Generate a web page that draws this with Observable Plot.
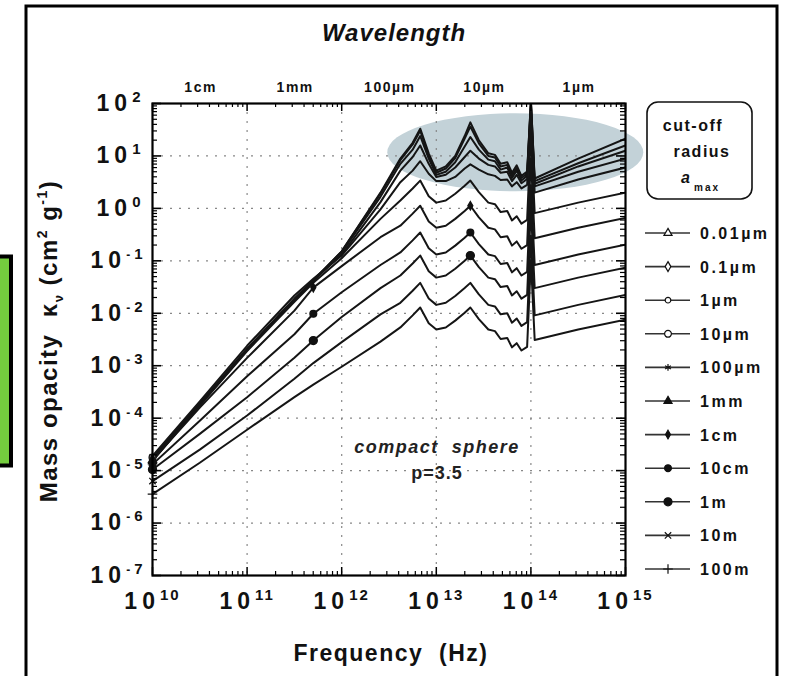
<!DOCTYPE html>
<html><head><meta charset="utf-8">
<script src="https://cdn.jsdelivr.net/npm/d3@7"></script>
<script src="https://cdn.jsdelivr.net/npm/@observablehq/plot@0.6"></script>
<style>
body{margin:0;background:#fff;}
#chart{position:relative;width:785px;height:676px;overflow:hidden;background:#fff;}
#chart svg{position:absolute;left:0;top:0;}
</style></head><body><div id="chart"></div>
<script>
// log10 of frequency (Hz)
const logFreq = [10, 10.5, 11, 11.5, 11.7, 12, 12.41, 12.62, 12.75, 12.83, 12.92, 13.0, 13.1, 13.2, 13.3, 13.36, 13.45, 13.55, 13.62, 13.68, 13.75, 13.8, 13.85, 13.9, 13.96, 14.0, 14.04, 14.5, 15];
// log10 of mass opacity (cm^2 g^-1), one list per cut-off radius
const kappa_001um = [-4.82, -3.75, -2.7, -1.75, -1.38, -0.82, 0.3, 0.95, 1.25, 1.52, 1.05, 0.72, 0.8, 1.0, 1.38, 1.64, 1.3, 1.05, 1.02, 0.85, 0.88, 0.68, 0.82, 0.62, 0.7, 2.05, 0.57, 0.95, 1.33];
const kappa_01um = [-4.8, -3.74, -2.69, -1.74, -1.37, -0.82, 0.28, 0.92, 1.22, 1.48, 1.0, 0.68, 0.76, 0.96, 1.33, 1.56, 1.24, 1.0, 0.97, 0.8, 0.83, 0.63, 0.77, 0.58, 0.66, 2.05, 0.52, 0.86, 1.2];
const kappa_1um = [-4.78, -3.73, -2.68, -1.73, -1.37, -0.84, 0.22, 0.85, 1.12, 1.38, 0.95, 0.64, 0.7, 0.88, 1.18, 1.36, 1.12, 0.93, 0.9, 0.74, 0.78, 0.58, 0.72, 0.53, 0.62, 2.0, 0.47, 0.8, 1.1];
const kappa_10um = [-4.75, -3.72, -2.68, -1.72, -1.38, -0.88, 0.12, 0.72, 0.98, 1.2, 0.85, 0.6, 0.64, 0.78, 0.98, 1.1, 0.95, 0.83, 0.8, 0.68, 0.7, 0.52, 0.64, 0.48, 0.56, 1.95, 0.42, 0.7, 0.95];
const kappa_100um = [-4.72, -3.68, -2.62, -1.66, -1.34, -0.9, -0.02, 0.5, 0.72, 0.9, 0.66, 0.52, 0.52, 0.6, 0.76, 0.84, 0.74, 0.65, 0.62, 0.54, 0.55, 0.42, 0.5, 0.38, 0.45, 1.85, 0.3, 0.55, 0.78];
const kappa_1mm = [-4.8, -3.76, -2.72, -1.78, -1.42, -0.95, -0.2, 0.15, 0.38, 0.53, 0.23, 0.11, 0.15, 0.28, 0.43, 0.53, 0.31, 0.11, 0.08, -0.07, -0.05, -0.23, -0.15, -0.29, -0.22, 1.43, -0.09, 0.11, 0.30];
const kappa_1cm = [-4.8, -3.8, -2.85, -1.95, -1.51, -1.1, -0.55, -0.33, -0.1, 0.05, -0.25, -0.37, -0.33, -0.2, -0.05, 0.05, -0.17, -0.37, -0.4, -0.55, -0.53, -0.71, -0.63, -0.77, -0.7, 0.95, -0.57, -0.37, -0.18];
const kappa_10cm = [-4.88, -4.05, -3.2, -2.4, -2.01, -1.6, -1.08, -0.84, -0.61, -0.46, -0.76, -0.88, -0.84, -0.71, -0.56, -0.46, -0.68, -0.88, -0.91, -1.06, -1.04, -1.22, -1.14, -1.28, -1.21, 0.44, -1.08, -0.88, -0.69];
const kappa_1m = [-4.98, -4.3, -3.6, -2.85, -2.52, -2.07, -1.52, -1.28, -1.05, -0.9, -1.2, -1.32, -1.28, -1.15, -1.0, -0.9, -1.12, -1.32, -1.35, -1.5, -1.48, -1.66, -1.58, -1.72, -1.65, 0.0, -1.52, -1.32, -1.13];
const kappa_10m = [-5.2, -4.6, -3.95, -3.25, -2.95, -2.55, -2.02, -1.8, -1.57, -1.42, -1.72, -1.84, -1.8, -1.67, -1.52, -1.42, -1.64, -1.84, -1.87, -2.02, -2.0, -2.18, -2.1, -2.24, -2.17, -0.52, -2.04, -1.84, -1.65];
const kappa_100m = [-5.45, -4.85, -4.22, -3.6, -3.36, -3.02, -2.54, -2.27, -2.04, -1.89, -2.19, -2.31, -2.27, -2.14, -1.99, -1.89, -2.11, -2.31, -2.34, -2.49, -2.47, -2.65, -2.57, -2.71, -2.64, -0.99, -2.51, -2.31, -2.12];

const radiusLabels = ["0.01µm", "0.1µm", "1µm", "10µm", "100µm", "1mm", "1cm", "10cm", "1m", "10m", "100m"];
const seriesValues = [kappa_001um, kappa_01um, kappa_1um, kappa_10um, kappa_100um, kappa_1mm, kappa_1cm, kappa_10cm, kappa_1m, kappa_10m, kappa_100m];
// where plot symbols are visible: every curve at 1e10 Hz; three curves also at two mid points
const markerAll = [0];
const markerSeries = ["1cm", "10cm", "1m"];
const markerMid = [4, 15];

// tick labels
const xTickExp = [10, 11, 12, 13, 14, 15];
const yTickExp = [-7, -6, -5, -4, -3, -2, -1, 0, 1, 2];
const wlLabels = ["1cm", "1mm", "100µm", "10µm", "1µm"];
const wlMetres = [1e-2, 1e-3, 1e-4, 1e-5, 1e-6];

// styles (not data)
const symStyle = [
  {s: "triangle", f: "white", r: 3}, {s: "diamond", f: "white", r: 3}, {s: "circle", f: "white", r: 2.8},
  {s: "circle", f: "white", r: 3.4}, {s: "asterisk", f: "none", r: 3.2}, {s: "triangle", f: "#111", r: 3},
  {s: "diamond", f: "#111", r: 2.6}, {s: "circle", f: "#111", r: 3.4}, {s: "circle", f: "#111", r: 4},
  {s: "times", f: "none", r: 3}, {s: "plus", f: "none", r: 3.2}
];

const C = 2.998e8;
const rows = [];
radiusLabels.forEach((lab, i) => seriesValues[i].forEach((v, j) => rows.push({series: lab, idx: j, nu: Math.pow(10, logFreq[j]), k: Math.pow(10, v)})));

const decX = xTickExp.map(e => Math.pow(10, e));
const decY = yTickExp.map(e => Math.pow(10, e));
const minorX = [], minorY = [];
for (let e = 10; e < 15; e++) for (let m = 2; m < 10; m++) minorX.push(m * Math.pow(10, e));
for (let e = -7; e < 2; e++) for (let m = 2; m < 10; m++) minorY.push(m * Math.pow(10, e));
const wl = wlLabels.map((t, i) => ({t, f: C / wlMetres[i]}));

const FW = 625 - 152, FH = 575 - 103;
const dotMarks = radiusLabels.map((lab, i) => Plot.dot(rows.filter(d => d.series === lab && (markerAll.includes(d.idx) || (markerSeries.includes(lab) && markerMid.includes(d.idx)))), {
  x: "nu", y: "k", symbol: symStyle[i].s, r: symStyle[i].r,
  fill: symStyle[i].f, stroke: "#111", strokeWidth: 1.3
}));

const chart = Plot.plot({
  width: 785, height: 676,
  marginLeft: 152, marginRight: 160, marginTop: 103, marginBottom: 101,
  style: {fontFamily: "'Liberation Sans', Arial, Helvetica, sans-serif", background: "transparent", color: "#111"},
  x: {type: "log", domain: [1e10, 1e15], axis: null},
  y: {type: "log", domain: [1e-7, 1e2], axis: null},
  marks: [
    Plot.ruleX(decX.slice(1, -1), {x: d => d, stroke: "#888", strokeDasharray: "2,7", strokeWidth: 1.2}),
    Plot.ruleY(decY.slice(1, -1), {y: d => d, stroke: "#888", strokeDasharray: "2,7", strokeWidth: 1.2}),
    Plot.line(rows, {x: "nu", y: "k", z: "series", stroke: "#151515", strokeWidth: 2, clip: true}),
    ...dotMarks,
    Plot.tickX(minorX, {x: d => d, insetTop: FH - 4, stroke: "#000", strokeWidth: 1.2}),
    Plot.tickX(minorX, {x: d => d, insetBottom: FH - 4, stroke: "#000", strokeWidth: 1.2}),
    Plot.tickX(decX, {x: d => d, insetTop: FH - 8, stroke: "#000", strokeWidth: 1.5}),
    Plot.tickX(decX, {x: d => d, insetBottom: FH - 8, stroke: "#000", strokeWidth: 1.5}),
    Plot.tickY(minorY, {y: d => d, insetRight: FW - 5, stroke: "#000", strokeWidth: 1.2}),
    Plot.tickY(minorY, {y: d => d, insetLeft: FW - 5, stroke: "#000", strokeWidth: 1.2}),
    Plot.tickY(decY, {y: d => d, insetRight: FW - 9, stroke: "#000", strokeWidth: 1.6}),
    Plot.tickY(decY, {y: d => d, insetLeft: FW - 9, stroke: "#000", strokeWidth: 1.6}),
    Plot.frame({stroke: "#000", strokeWidth: 2.2}),
    Plot.text(decX, {x: d => d, frameAnchor: "bottom", dy: 33, text: d => "10^" + Math.round(Math.log10(d)), fontSize: 23, fontWeight: "bold", fill: "#111"}),
    Plot.text(decY, {y: d => d, frameAnchor: "left", dx: -10, textAnchor: "end", text: d => "10^" + Math.round(Math.log10(d)), fontSize: 23, fontWeight: "bold", fill: "#111"}),
    Plot.text(wl, {x: "f", dx: 3, frameAnchor: "top", dy: -21, text: "t", fontSize: 14, fontWeight: "bold", fill: "#111", stroke: "none"})
  ]
});
document.getElementById("chart").appendChild(chart);

const svg = d3.select(chart);
// rebuild power-of-ten labels with superscripts
svg.selectAll("text").each(function() {
  const m = /^10\^(-?\d+)$/.exec(this.textContent);
  if (!m) return;
  const e = m[1];
  const t = d3.select(this);
  t.text("");
  t.append("tspan").attr("letter-spacing", "5px").text("10");
  if (e.startsWith("-")) {
    t.append("tspan").attr("dy", "-9").attr("font-size", 12).text("-");
    t.append("tspan").attr("font-size", 15).attr("dx", 4).text(e.slice(1));
  } else {
    t.append("tspan").attr("dy", "-9").attr("font-size", 15).attr("letter-spacing", "2px").text(e);
  }
});
// letter-space the wavelength labels a little, like the reference
svg.selectAll("text").filter(function() { return wlLabels.includes(this.textContent); }).attr("letter-spacing", "1.5px");

const xs = chart.scale("x"), ys = chart.scale("y");
// highlight ellipse (behind the curves)
svg.insert("ellipse", "g")
  .attr("cx", xs.apply(Math.pow(10, 13.84))).attr("cy", ys.apply(Math.pow(10, 1.06)))
  .attr("rx", 128).attr("ry", 39)
  .attr("fill", "#c3d2d8");

const font = "'Liberation Sans', Arial, Helvetica, sans-serif";
const deco = svg.append("g").attr("font-family", font).attr("fill", "#111").attr("font-weight", "bold").attr("text-anchor", "start");
// outer frame
deco.append("path").attr("d", "M26,680V6H777V680").attr("fill", "none").attr("stroke", "#000").attr("stroke-width", 3);
// green box at left
deco.append("rect").attr("x", -3).attr("y", 256.5).attr("width", 14).attr("height", 209).attr("fill", "#74cc3e").attr("stroke", "#000").attr("stroke-width", 4);

deco.append("text").attr("x", 394).attr("y", 41).attr("text-anchor", "middle").attr("font-size", 24).attr("font-style", "italic").attr("letter-spacing", "1px").text("Wavelength");
deco.append("text").attr("x", 391).attr("y", 661).attr("text-anchor", "middle").attr("font-size", 23).attr("letter-spacing", "1.5px").text("Frequency  (Hz)");

const yt = deco.append("text").attr("transform", "translate(57,341) rotate(-90)").attr("text-anchor", "middle").attr("font-size", 24).attr("letter-spacing", "1.5px");
yt.append("tspan").text("Mass opacity  κ");
yt.append("tspan").attr("font-size", 13).attr("dy", 6).text("ν");
yt.append("tspan").attr("dy", -6).text(" (cm");
yt.append("tspan").attr("font-size", 14).attr("dy", -10).text("2");
yt.append("tspan").attr("dy", 10).text(" g");
yt.append("tspan").attr("font-size", 14).attr("dy", -10).text("-1");
yt.append("tspan").attr("dy", 10).text(")");

deco.append("text").attr("x", 437).attr("y", 453).attr("text-anchor", "middle").attr("font-size", 18).attr("font-style", "italic").attr("letter-spacing", "1.5px").attr("fill", "#222").text("compact  sphere");
deco.append("text").attr("x", 437).attr("y", 479).attr("text-anchor", "middle").attr("font-size", 18).attr("letter-spacing", "1px").attr("fill", "#222").text("p=3.5");

// legend header
deco.append("rect").attr("x", 647).attr("y", 102).attr("width", 105).attr("height", 97).attr("rx", 11).attr("fill", "white").attr("stroke", "#111").attr("stroke-width", 1.6);
deco.append("text").attr("x", 693).attr("y", 131).attr("text-anchor", "middle").attr("font-size", 16).attr("letter-spacing", "1.5px").text("cut-off");
deco.append("text").attr("x", 702).attr("y", 157).attr("text-anchor", "middle").attr("font-size", 16).attr("letter-spacing", "1.5px").text("radius");
deco.append("text").attr("x", 681).attr("y", 183).attr("font-size", 16).attr("font-style", "italic").text("a");
deco.append("text").attr("x", 694).attr("y", 191).attr("font-size", 10).attr("letter-spacing", "2px").text("max");

// legend entries
const symMap = {triangle: d3.symbolTriangle, diamond: d3.symbolDiamond, circle: d3.symbolCircle, asterisk: d3.symbolAsterisk, times: d3.symbolTimes, plus: d3.symbolPlus};
radiusLabels.forEach((lab, i) => {
  const y = 233 + i * 33.6;
  deco.append("line").attr("x1", 645).attr("x2", 690).attr("y1", y).attr("y2", y).attr("stroke", "#333").attr("stroke-width", 1.6);
  const st = symStyle[i];
  deco.append("path").attr("transform", `translate(668,${y})`)
    .attr("d", d3.symbol(symMap[st.s], Math.PI * st.r * st.r)())
    .attr("fill", st.f).attr("stroke", "#111").attr("stroke-width", 1.2);
  deco.append("text").attr("x", 700).attr("y", y + 6).attr("font-size", 16).attr("letter-spacing", "2.5px").text(lab);
});
</script></body></html>
